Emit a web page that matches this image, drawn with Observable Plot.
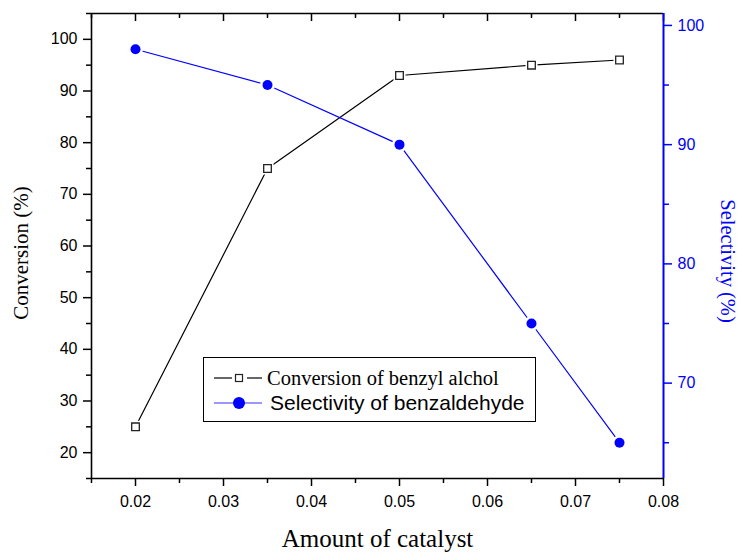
<!DOCTYPE html>
<html>
<head>
<meta charset="utf-8">
<script src="https://cdn.jsdelivr.net/npm/d3@7"></script>
<script src="https://cdn.jsdelivr.net/npm/@observablehq/plot@0.6"></script>
<style>
  html, body { margin: 0; padding: 0; background: #fff; }
  #wrap { position: relative; width: 742px; height: 552px; }
  #legend { position: absolute; left: 203px; top: 357px; width: 333px; height: 65px;
            border: 1.3px solid #000; background: #fff; box-sizing: border-box; }
  #legend svg { position: absolute; left: 0; top: 0; }
  .lt { position: absolute; white-space: nowrap; line-height: 1; }
</style>
</head>
<body>
<div id="wrap"></div>
<script>
// ---- data ----
const catalyst = [0.02, 0.035, 0.05, 0.065, 0.075];
const conversion = [25, 75, 93, 95, 96];
const selectivity = [98, 95, 90, 75, 65];

const xMajor = [0.02, 0.03, 0.04, 0.05, 0.06, 0.07, 0.08];
const xMinor = [0.015, 0.025, 0.035, 0.045, 0.055, 0.065, 0.075];
const yLeftMajor = [20, 30, 40, 50, 60, 70, 80, 90, 100];
const yLeftMinor = [15, 25, 35, 45, 55, 65, 75, 85, 95, 105];
const yRightMajor = [70, 80, 90, 100];
const yRightMinor = [65, 75, 85, 95];

const xDomain = [0.015, 0.08];
const yLeftDomain = [15, 105];
const yRightDomain = [62, 101];

const BLUE = "#0000ff";
const SANS = "'Liberation Sans', Arial, sans-serif";
const SERIF = "'Liberation Serif', 'Times New Roman', serif";

const W = 742, H = 552, MT = 13, MB = 74;
const frameH = H - MT - MB;

// map right-axis values into the left scale
const r2l = d3.scaleLinear(yRightDomain, yLeftDomain);

const convData = catalyst.map((x, i) => ({x, y: conversion[i]}));
const selData = catalyst.map((x, i) => ({x, y: r2l(selectivity[i]), s: selectivity[i]}));

const chart = Plot.plot({
  width: W,
  height: H,
  marginLeft: 91,
  marginRight: 79,
  marginTop: MT,
  marginBottom: MB,
  style: {fontFamily: SANS, background: "#fff", overflow: "visible"},
  x: {domain: xDomain, axis: null},
  y: {domain: yLeftDomain, axis: null},
  marks: [
    // data lines
    Plot.line(convData, {x: "x", y: "y", stroke: "#000", strokeWidth: 1.2}),
    Plot.line(selData, {x: "x", y: "y", stroke: BLUE, strokeWidth: 1.2}),
    // halos (gaps between line and markers)
    Plot.dot(convData, {x: "x", y: "y", symbol: "square", r: 6.8, fill: "#fff", stroke: "none"}),
    Plot.dot(selData, {x: "x", y: "y", r: 7.5, fill: "#fff", stroke: "none"}),
    // markers
    Plot.dot(convData, {x: "x", y: "y", symbol: "square", r: 4.3, fill: "#fff", stroke: "#222", strokeWidth: 1.3}),
    Plot.dot(selData, {x: "x", y: "y", r: 5, fill: BLUE, stroke: "none"}),

    // top mirrored ticks (pointing inward)
    Plot.ruleX(xMajor, {x: d => d, stroke: "#000", strokeWidth: 1.5, insetBottom: frameH - 8}),
    Plot.ruleX(xMinor, {x: d => d, stroke: "#000", strokeWidth: 1.5, insetBottom: frameH - 5}),

    // frame lines
    Plot.ruleY([yLeftDomain[0]], {stroke: "#000", strokeWidth: 1.6}),
    Plot.ruleY([yLeftDomain[1]], {stroke: "#000", strokeWidth: 1.6}),
    Plot.ruleX([xDomain[0]], {stroke: "#000", strokeWidth: 1.6}),
    Plot.ruleX([xDomain[1]], {stroke: BLUE, strokeWidth: 2}),

    // bottom axis
    Plot.axisX(xMajor, {anchor: "bottom", label: null, tickSize: 8, tickPadding: 9, strokeWidth: 1.5,
      fontSize: 16, fill: "#000", tickFormat: d => d3.format(".2f")(d)}),
    Plot.axisX(xMinor, {anchor: "bottom", label: null, tickSize: 5, strokeWidth: 1.5, text: null}),
    // left axis
    Plot.axisY(yLeftMajor, {anchor: "left", label: null, tickSize: 8, tickPadding: 6, strokeWidth: 1.5,
      fontSize: 16, fill: "#000"}),
    Plot.axisY(yLeftMinor, {anchor: "left", label: null, tickSize: 5, strokeWidth: 1.5, text: null}),
    // right axis (blue)
    Plot.axisY(yRightMajor.map(r2l), {anchor: "right", label: null, tickSize: 8, tickPadding: 6, strokeWidth: 1.5,
      stroke: BLUE, fill: BLUE, fontSize: 16, tickFormat: d => String(Math.round(r2l.invert(d)))}),
    Plot.axisY(yRightMinor.map(r2l), {anchor: "right", label: null, tickSize: 5, strokeWidth: 1.5, stroke: BLUE, text: null}),

    // axis titles
    Plot.text(["Amount of catalyst"], {frameAnchor: "bottom", dy: 60, fontSize: 25,
      fontFamily: SERIF, fill: "#000", lineAnchor: "middle"}),
    Plot.text(["Conversion (%)"], {frameAnchor: "left", dx: -70, dy: 7, rotate: -90, fontSize: 21,
      fontFamily: SERIF, fill: "#000", lineAnchor: "middle", textAnchor: "middle"}),
    Plot.text(["Selectivity (%)"], {frameAnchor: "right", dx: 64, dy: 15, rotate: 90, fontSize: 20.5,
      fontFamily: SERIF, fill: BLUE, lineAnchor: "middle", textAnchor: "middle"})
  ]
});

const wrap = document.getElementById("wrap");
wrap.appendChild(chart);

// legend
const legend = document.createElement("div");
legend.id = "legend";
legend.innerHTML = `
<svg width="70" height="65">
  <line x1="10" y1="20" x2="28" y2="20" stroke="#000" stroke-width="1.2"/>
  <line x1="43" y1="20" x2="58" y2="20" stroke="#000" stroke-width="1.2"/>
  <rect x="31.5" y="16.5" width="7" height="7" fill="#fff" stroke="#222" stroke-width="1.2"/>
  <line x1="10" y1="45" x2="58" y2="45" stroke="${BLUE}" stroke-width="1.2" stroke-opacity="0.8"/>
  <circle cx="35" cy="45" r="6" fill="${BLUE}"/>
</svg>
<div class="lt" style="left:63px; top:10px; font-family:${SERIF}; font-size:20.5px;">Conversion of benzyl alchol</div>
<div class="lt" style="left:66px; top:34px; font-family:${SANS}; font-size:21px;">Selectivity of benzaldehyde</div>
`;
wrap.appendChild(legend);
</script>
</body>
</html>
